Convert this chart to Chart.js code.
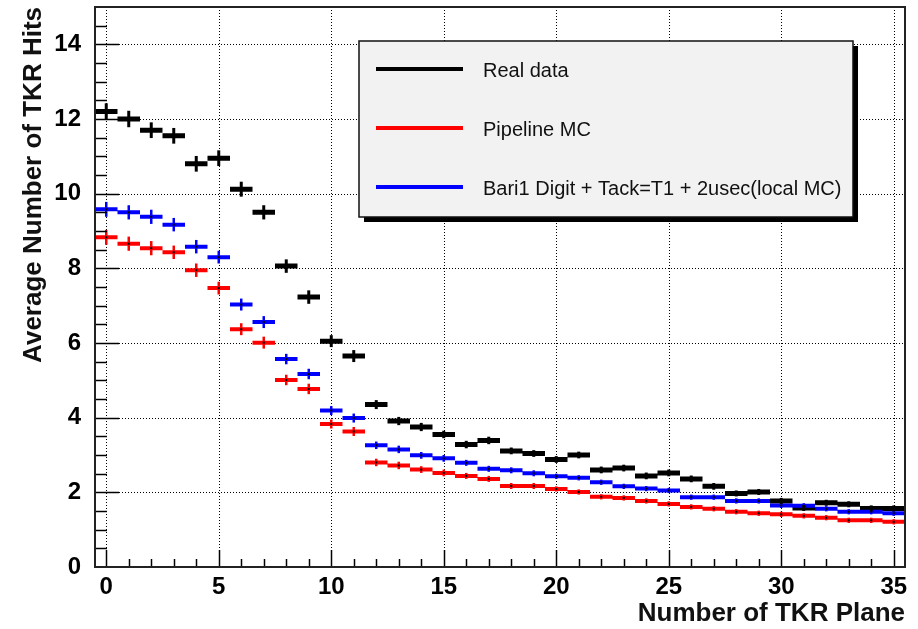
<!DOCTYPE html>
<html>
<head>
<meta charset="utf-8">
<script src="https://cdn.jsdelivr.net/npm/chart.js@4.4.0/dist/chart.umd.min.js"></script>
<style>
  html, body { margin: 0; padding: 0; background: #fff; }
  #wrap { width: 918px; height: 629px; }
</style>
</head>
<body>
<div id="wrap"><canvas id="myChart"></canvas></div>
<script>
// TKR plane number (bin centres)
const planes = [0, 1, 2, 3, 4, 5, 6, 7, 8, 9, 10, 11, 12, 13, 14, 15, 16, 17,
	18, 19, 20, 21, 22, 23, 24, 25, 26, 27, 28, 29, 30, 31, 32, 33, 34, 35];

// average number of hits per plane
const realData = [12.2, 12.0, 11.7, 11.55, 10.8, 10.95, 10.12, 9.5, 8.06, 7.23, 6.05, 5.65,
	4.35, 3.91, 3.75, 3.55, 3.28, 3.39, 3.11, 3.04, 2.88, 3.0, 2.6, 2.65,
	2.44, 2.52, 2.36, 2.16, 1.97, 2.01, 1.77, 1.58, 1.72, 1.68, 1.57, 1.57];
const pipelineMC = [8.83, 8.66, 8.54, 8.43, 7.95, 7.47, 6.37, 6.01, 5.01, 4.77, 3.83, 3.63,
	2.8, 2.72, 2.61, 2.52, 2.44, 2.36, 2.17, 2.17, 2.09, 2.01, 1.88, 1.85,
	1.77, 1.69, 1.61, 1.56, 1.48, 1.44, 1.41, 1.37, 1.32, 1.25, 1.25, 1.21];
const localMC = [9.58, 9.5, 9.38, 9.17, 8.58, 8.3, 7.03, 6.56, 5.57, 5.17, 4.19, 3.99,
	3.26, 3.15, 2.99, 2.91, 2.79, 2.63, 2.59, 2.51, 2.43, 2.39, 2.27, 2.16,
	2.1, 2.05, 1.87, 1.87, 1.77, 1.77, 1.65, 1.64, 1.56, 1.48, 1.48, 1.44];

// error bar half heights
const realErr = [0.18, 0.18, 0.17, 0.17, 0.17, 0.17, 0.16, 0.15, 0.14, 0.14, 0.12, 0.12,
	0.08, 0.07, 0.07, 0.06, 0.06, 0.06, 0.05, 0.05, 0.05, 0.05, 0.05, 0.05,
	0.05, 0.05, 0.05, 0.05, 0.04, 0.04, 0.04, 0.04, 0.04, 0.04, 0.04, 0.04];
const pipelineErr = [0.16, 0.15, 0.15, 0.14, 0.14, 0.13, 0.12, 0.12, 0.1, 0.1, 0.08, 0.08,
	0.06, 0.06, 0.05, 0.05, 0.04, 0.04, 0.04, 0.04, 0.03, 0.03, 0.03, 0.03,
	0.03, 0.03, 0.03, 0.03, 0.03, 0.03, 0.03, 0.03, 0.03, 0.03, 0.03, 0.03];
const localErr = [0.16, 0.15, 0.15, 0.14, 0.14, 0.13, 0.12, 0.12, 0.1, 0.1, 0.08, 0.08,
	0.06, 0.06, 0.05, 0.05, 0.04, 0.04, 0.04, 0.04, 0.03, 0.03, 0.03, 0.03,
	0.03, 0.03, 0.03, 0.03, 0.03, 0.03, 0.03, 0.03, 0.03, 0.03, 0.03, 0.03];

// axis tick labels
const xTicks = [0, 5, 10, 15, 20, 25, 30, 35];
const yTicks = [0, 2, 4, 6, 8, 10, 12, 14];

// turn a histogram into flat steps, one segment per bin
function binSteps(values) {
	const pts = [];
	values.forEach((v, i) => {
		pts.push({ x: planes[i] - 0.5, y: v });
		pts.push({ x: planes[i] + 0.5, y: v });
		pts.push({ x: planes[i] + 0.5, y: null });
	});
	return pts;
}

const sets = [
	{ label: 'Pipeline MC', values: pipelineMC, errs: pipelineErr, color: '#ff0000', width: 4 },
	{ label: 'Bari1 Digit + Tack=T1 + 2usec(local MC)', values: localMC, errs: localErr, color: '#0000ff', width: 4 },
	{ label: 'Real data', values: realData, errs: realErr, color: '#000000', width: 5 },
];
const legendOrder = ['Real data', 'Pipeline MC', 'Bari1 Digit + Tack=T1 + 2usec(local MC)'];

// ROOT style frame: dotted grid, inside ticks, error bars, legend box
const rootStyle = {
	id: 'rootStyle',
	beforeDatasetsDraw(chart) {
		const { ctx, chartArea: a, scales: { x, y } } = chart;
		ctx.save();
		ctx.strokeStyle = '#000';
		ctx.lineWidth = 1;
		ctx.setLineDash([1, 2]);
		xTicks.forEach((t) => {
			const px = Math.round(x.getPixelForValue(t)) + 0.5;
			ctx.beginPath();
			ctx.moveTo(px, a.top);
			ctx.lineTo(px, a.bottom);
			ctx.stroke();
		});
		yTicks.forEach((t) => {
			if (t === 0) return;
			const py = Math.round(y.getPixelForValue(t)) + 0.5;
			ctx.beginPath();
			ctx.moveTo(a.left, py);
			ctx.lineTo(a.right, py);
			ctx.stroke();
		});
		ctx.restore();
	},
	afterDatasetsDraw(chart) {
		const { ctx, chartArea: a, scales: { x, y } } = chart;
		ctx.save();

		// error bars + centre dots
		sets.forEach((s) => {
			ctx.strokeStyle = s.color;
			ctx.lineWidth = s.width === 5 ? 3 : 2.5;
			s.values.forEach((v, i) => {
				const px = x.getPixelForValue(planes[i]);
				ctx.beginPath();
				ctx.moveTo(px, y.getPixelForValue(v - s.errs[i]) + 1.5);
				ctx.lineTo(px, y.getPixelForValue(v + s.errs[i]) - 1.5);
				ctx.stroke();
				if (s.color !== '#000000') {
					ctx.fillStyle = '#000';
					ctx.fillRect(px - 1, y.getPixelForValue(v) - 1, 2, 2);
				}
			});
		});

		// ticks inside the frame
		ctx.strokeStyle = '#000';
		ctx.lineWidth = 1.5;
		for (let t = 0; t <= 35; t++) {
			const px = Math.round(x.getPixelForValue(t)) + 0.5;
			const len = t % 5 === 0 ? 17 : 8;
			ctx.beginPath();
			ctx.moveTo(px, a.bottom);
			ctx.lineTo(px, a.bottom - len);
			ctx.stroke();
		}
		for (let t = 0.5; t < 15; t += 0.5) {
			const py = Math.round(y.getPixelForValue(t)) + 0.5;
			const len = t % 2 === 0 ? 24 : 12;
			ctx.beginPath();
			ctx.moveTo(a.left, py);
			ctx.lineTo(a.left + len, py);
			ctx.stroke();
		}

		// frame
		ctx.lineWidth = 2;
		ctx.strokeStyle = '#222';
		ctx.strokeRect(a.left, a.top, a.right - a.left, a.bottom - a.top);

		// legend box with shadow
		const bx = 359, by = 41, bw = 494, bh = 176;
		ctx.fillStyle = '#000';
		ctx.fillRect(bx + 5, by + 5, bw, bh);
		ctx.fillStyle = '#f2f2f2';
		ctx.fillRect(bx, by, bw, bh);
		ctx.lineWidth = 1.5;
		ctx.strokeStyle = '#111';
		ctx.strokeRect(bx, by, bw, bh);
		const rows = [69, 128, 187];
		ctx.font = '20px "Liberation Sans", Arial, sans-serif';
		ctx.textBaseline = 'middle';
		legendOrder.forEach((lab, k) => {
			const s = sets.find((d) => d.label === lab);
			ctx.strokeStyle = s.color;
			ctx.lineWidth = 4;
			ctx.beginPath();
			ctx.moveTo(376, rows[k]);
			ctx.lineTo(463, rows[k]);
			ctx.stroke();
			ctx.fillStyle = '#111';
			ctx.fillText(lab, 483, rows[k] + 2);
		});
		ctx.restore();
	},
};

const tickFont = { family: '"Liberation Sans", Arial, sans-serif', size: 24, weight: 'bold' };
const titleFont = { family: '"Liberation Sans", Arial, sans-serif', size: 26, weight: 'bold' };

let myChart = document.getElementById('myChart').getContext('2d');

let chart = new Chart(myChart, {
	type: 'line',
	data: {
		datasets: sets.map((s) => ({
			label: s.label,
			data: binSteps(s.values),
			borderColor: s.color,
			borderWidth: s.width,
			pointRadius: 0,
			spanGaps: false,
			tension: 0,
			borderCapStyle: 'butt',
		})),
	},
	options: {
		responsive: true,
		maintainAspectRatio: false,
		animation: false,
		layout: {
			padding: { top: 7, right: 13, left: 0, bottom: 0 },
		},
		plugins: {
			legend: { display: false },
			tooltip: { enabled: false },
		},
		scales: {
			x: {
				type: 'linear',
				min: -0.5,
				max: 35.5,
				grid: { display: false },
				border: { display: false },
				afterBuildTicks: (s) => {
					s.ticks = xTicks.map((v) => ({ value: v }));
				},
				afterFit: (s) => {
					s.height = 62;
					s.paddingLeft = 0;
					s.paddingRight = 0;
				},
				ticks: {
					color: '#000',
					font: tickFont,
					padding: -2,
					maxRotation: 0,
				},
				title: {
					display: true,
					text: 'Number of TKR Plane',
					align: 'end',
					color: '#111',
					font: titleFont,
					padding: { top: 2, bottom: 0 },
				},
			},
			y: {
				min: 0,
				max: 15,
				grid: { display: false },
				border: { display: false },
				afterBuildTicks: (s) => {
					s.ticks = yTicks.map((v) => ({ value: v }));
				},
				afterFit: (s) => {
					s.width = 95;
					s.paddingTop = 0;
					s.paddingBottom = 0;
				},
				ticks: {
					color: '#000',
					font: tickFont,
					padding: 6,
				},
				title: {
					display: true,
					text: 'Average Number of TKR Hits',
					align: 'end',
					color: '#111',
					font: titleFont,
					padding: { top: 18, bottom: 0 },
				},
			},
		},
	},
	plugins: [rootStyle],
});
</script>
</body>
</html>
